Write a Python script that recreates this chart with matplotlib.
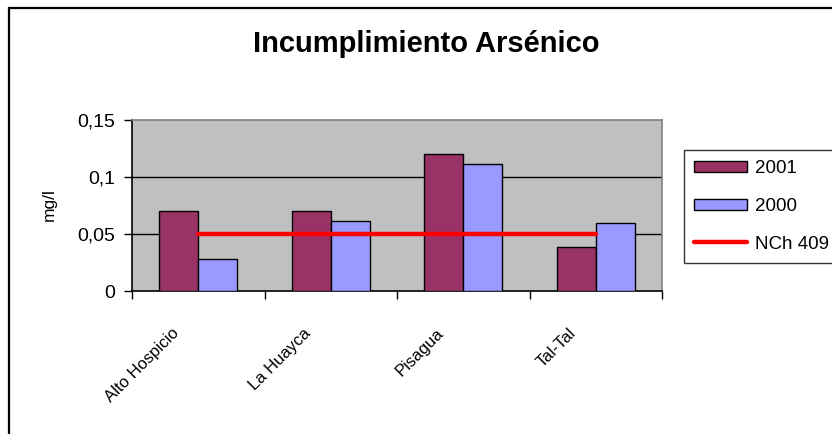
import numpy as np
import matplotlib
matplotlib.use('Agg')
import matplotlib.pyplot as plt
import matplotlib.transforms as mtransforms
from matplotlib.patches import Rectangle
from matplotlib.lines import Line2D

# data
categories = ['Alto Hospicio', 'La Huayca', 'Pisagua', 'Tal-Tal']
values_2001 = [0.070, 0.070, 0.120, 0.039]
values_2000 = [0.028, 0.061, 0.111, 0.060]
nch_409 = [0.05, 0.05, 0.05, 0.05]
y_ticks = [0, 0.05, 0.1, 0.15]
y_tick_labels = ['0', '0,05', '0,1', '0,15']

plt.rcParams['font.family'] = ['Liberation Sans', 'DejaVu Sans']

fig = plt.figure(figsize=(8.32, 4.34), dpi=100)
ax = fig.add_axes([132 / 832, 1 - 291 / 434, 530 / 832, 171 / 434])
ax.set_facecolor('#C0C0C0')

centers = np.arange(len(categories)) + 0.5
w = 0.295
ax.bar(centers - w / 2, values_2001, width=w, color='#993366',
       edgecolor='black', linewidth=1, label='2001', zorder=3)
ax.bar(centers + w / 2, values_2000, width=w, color='#9999FF',
       edgecolor='black', linewidth=1, label='2000', zorder=3)
ax.plot(centers, nch_409, color='#FF0000', linewidth=3.2,
        solid_capstyle='round', label='NCh 409', zorder=4)

ax.set_xlim(0, len(categories))
ax.set_ylim(0, 0.15)
ax.set_yticks(y_ticks)
ax.set_yticklabels(y_tick_labels, fontsize=14)
ax.set_xticks(np.arange(len(categories) + 1))
ax.set_xticklabels([])
ax.tick_params(axis='both', direction='out', length=6, width=1, color='black')
ax.tick_params(axis='y', pad=6)

for yv in y_ticks[1:3]:
    ax.axhline(yv, color='black', linewidth=1, zorder=1)

for s in ['left', 'bottom']:
    ax.spines[s].set_color('black')
    ax.spines[s].set_linewidth(1.2)
for s in ['top', 'right']:
    ax.spines[s].set_color('#808080')
    ax.spines[s].set_linewidth(1.2)

# rotated category labels
offset = mtransforms.ScaledTranslation(-22 / 100, -40 / 100, fig.dpi_scale_trans)
for c, lab in zip(centers, categories):
    ax.text(c, 0, lab, transform=ax.get_xaxis_transform() + offset,
            rotation=45, rotation_mode='anchor', ha='right', va='center',
            fontsize=12)

fig.text(49 / 832, 1 - 205 / 434, 'mg/l', rotation=90, ha='center',
         va='center', fontsize=12.5)

fig.text(426 / 832, 1 - 44 / 434, 'Incumplimiento Arsénico', ha='center',
         va='center', fontsize=21, fontweight='bold')

# outer chart frame (cut at right and bottom)
fig.patches.append(Rectangle((9 / 832, -0.1), 1.2, 1 - 8 / 434 + 0.1,
                             transform=fig.transFigure, fill=False,
                             edgecolor='black', linewidth=1.6))

handles = [Rectangle((0, 0), 1, 1, facecolor='#993366', edgecolor='black'),
           Rectangle((0, 0), 1, 1, facecolor='#9999FF', edgecolor='black'),
           Line2D([0], [0], color='#FF0000', linewidth=3.2, solid_capstyle='round')]
leg = fig.legend(handles, ['2001', '2000', 'NCh 409'], loc='upper left',
                 bbox_to_anchor=(684 / 832, 1 - 150 / 434), fontsize=13.5,
                 frameon=True, fancybox=False, edgecolor='black',
                 handlelength=2.8, handleheight=0.55, handletextpad=0.45,
                 labelspacing=1.1, borderpad=0.55, borderaxespad=0)
leg.get_frame().set_linewidth(1)

fig.savefig('out.png', dpi=100)
